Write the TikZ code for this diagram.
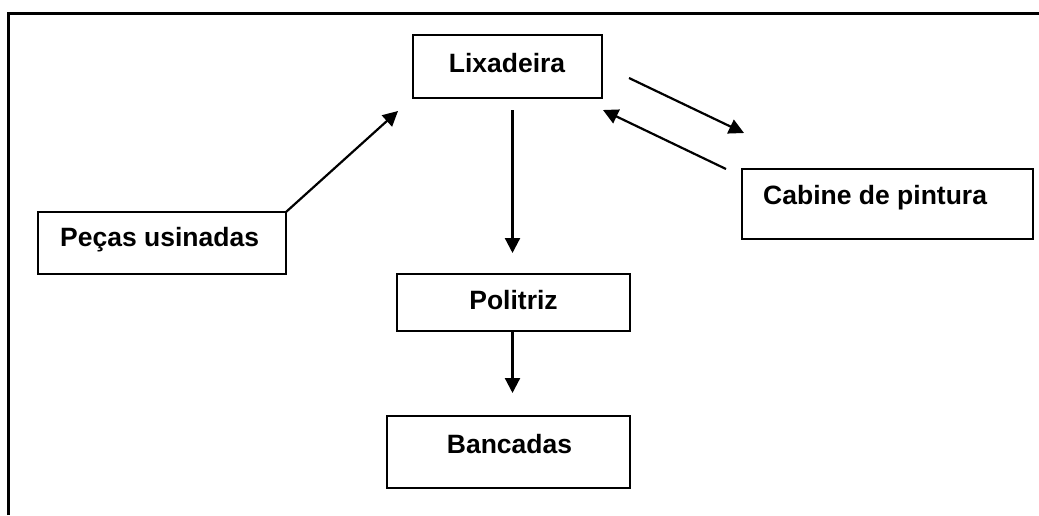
\documentclass[tikz,border=0pt]{standalone}
\usepackage{fontspec}
\setmainfont{Liberation Sans}
\usetikzlibrary{arrows.meta,calc}
\begin{document}
\begin{tikzpicture}[x=1pt,y=-1pt,
  box/.style={draw,line width=1.4pt,inner sep=0pt,outer sep=0pt},
  lbl/.style={inner sep=0pt,font=\fontsize{26.5}{30}\selectfont\bfseries},
  arr/.style={line width=2.2pt,-{Triangle[length=15pt,width=15pt]}}]
\useasboundingbox (0,0) rectangle (1039,515);
% outer frame (only top and left sides visible)
\draw[line width=2.4pt] (8.5,515) -- (8.5,13.5) -- (1045,13.5);
% boxes
\node[box,minimum width=189pt,minimum height=63pt] (lix) at (507.5,66.5) {};
\node[box,minimum width=233pt,minimum height=57pt] (pol) at (513.5,302.5) {};
\node[box,minimum width=243pt,minimum height=72pt] (banc) at (508.5,452) {};
\node[box,minimum width=248pt,minimum height=62pt] (peca) at (162,243) {};
\node[box,minimum width=291pt,minimum height=70pt] (cab) at (887.5,204) {};
% texts
\node[lbl,anchor=base] (tlix) at (507,72) {Lixadeira};
\node[lbl,anchor=base] (tpol) at (513.5,309) {Politriz};
\node[lbl,anchor=base] (tbanc) at (509.5,453) {Bancadas};
\node[lbl,anchor=base west] (tcab) at (763,204) {Cabine de pintura};
\node[lbl,anchor=base west] (tpeca) at (60,246) {Peças usinadas};
% free ends
\coordinate (c1s) at (629,78);
\coordinate (c1e) at (744,133);
\coordinate (c2s) at (726,169);
\coordinate (c2e) at (603,110);
\coordinate (pe) at (398,111);
% connectors
\draw[arr] (peca.north east) -- (pe);
\draw[arr,shorten <=12pt,shorten >=21pt] ([xshift=-1pt]lix.south -| pol.north) -- ([xshift=-1pt]pol.north);
\draw[arr,shorten >=23pt] ([xshift=-1pt]pol.south) -- ([xshift=-1pt]pol.south |- banc.north);
\draw[arr] (c1s) -- (c1e);
\draw[arr] (c2s) -- (c2e);
\end{tikzpicture}
\end{document}
